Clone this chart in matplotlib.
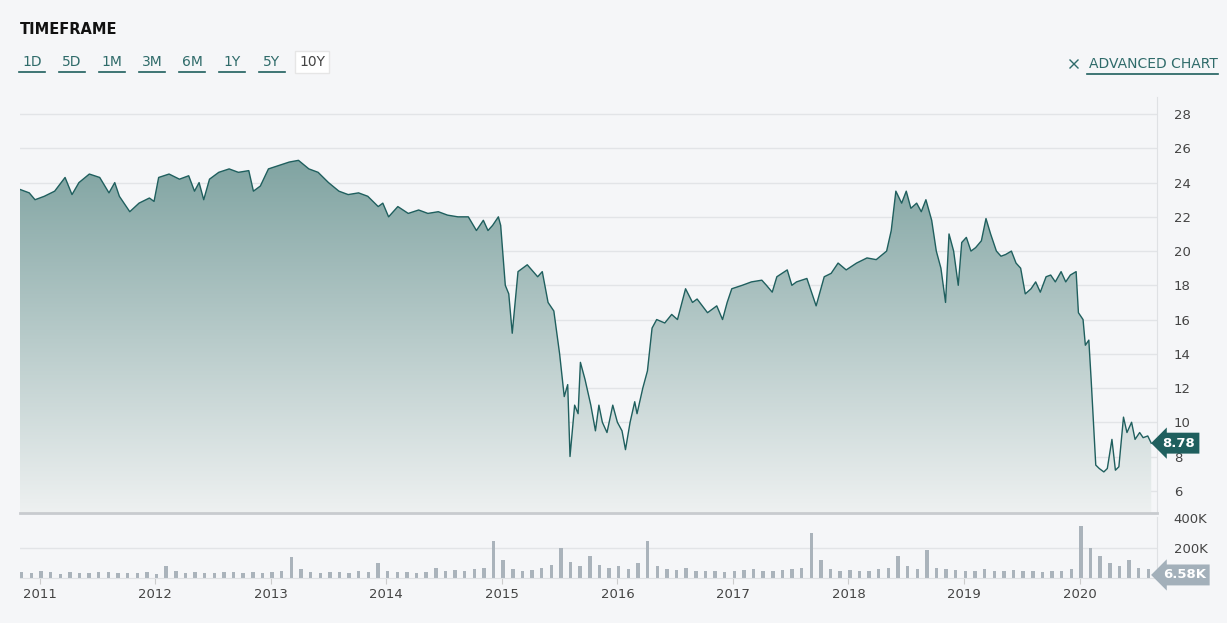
import matplotlib.pyplot as plt
import numpy as np
from matplotlib.patches import Polygon
from matplotlib.colors import LinearSegmentedColormap

# price series, decimal years
years = [2010.83, 2010.91, 2010.96, 2011.04, 2011.13, 2011.22, 2011.28, 2011.34, 2011.43, 2011.52,
         2011.60, 2011.65, 2011.69, 2011.78, 2011.86, 2011.95, 2011.99, 2012.03, 2012.12, 2012.21,
         2012.29, 2012.34, 2012.38, 2012.42, 2012.47, 2012.55, 2012.64, 2012.72, 2012.81, 2012.85,
         2012.91, 2012.98, 2013.07, 2013.16, 2013.24, 2013.33, 2013.41, 2013.50, 2013.59, 2013.67,
         2013.76, 2013.84, 2013.93, 2013.97, 2014.02, 2014.10, 2014.19, 2014.28, 2014.36, 2014.45,
         2014.53, 2014.62, 2014.71, 2014.78, 2014.84, 2014.88, 2014.92, 2014.97, 2014.99, 2015.03,
         2015.06, 2015.09, 2015.14, 2015.22, 2015.31, 2015.35, 2015.40, 2015.45, 2015.50, 2015.54,
         2015.57, 2015.59, 2015.63, 2015.66, 2015.68, 2015.72, 2015.77, 2015.81, 2015.84, 2015.87,
         2015.91, 2015.96, 2016.00, 2016.04, 2016.07, 2016.11, 2016.15, 2016.17, 2016.22, 2016.26,
         2016.30, 2016.34, 2016.41, 2016.47, 2016.52, 2016.59, 2016.65, 2016.69, 2016.78, 2016.86,
         2016.91, 2016.95, 2016.99, 2017.08, 2017.16, 2017.25, 2017.29, 2017.34, 2017.38, 2017.47,
         2017.51, 2017.55, 2017.64, 2017.68, 2017.72, 2017.79, 2017.85, 2017.91, 2017.98, 2018.07,
         2018.16, 2018.24, 2018.33, 2018.37, 2018.41, 2018.46, 2018.50, 2018.54, 2018.59, 2018.63,
         2018.67, 2018.72, 2018.76, 2018.80, 2018.84, 2018.87, 2018.91, 2018.95, 2018.98, 2019.02,
         2019.06, 2019.10, 2019.15, 2019.19, 2019.23, 2019.28, 2019.32, 2019.36, 2019.41, 2019.45,
         2019.49, 2019.53, 2019.58, 2019.62, 2019.66, 2019.71, 2019.75, 2019.79, 2019.84, 2019.88,
         2019.92, 2019.97, 2019.99, 2020.03, 2020.05, 2020.08, 2020.10, 2020.14, 2020.17, 2020.21,
         2020.24, 2020.28, 2020.31, 2020.34, 2020.38, 2020.41, 2020.45, 2020.48, 2020.52, 2020.55,
         2020.59, 2020.62]
prices = [23.6, 23.4, 23.0, 23.2, 23.5, 24.3, 23.3, 24.0, 24.5, 24.3,
          23.4, 24.0, 23.2, 22.3, 22.8, 23.1, 22.9, 24.3, 24.5, 24.2,
          24.4, 23.5, 24.0, 23.0, 24.2, 24.6, 24.8, 24.6, 24.7, 23.5,
          23.8, 24.8, 25.0, 25.2, 25.3, 24.8, 24.6, 24.0, 23.5, 23.3,
          23.4, 23.2, 22.6, 22.8, 22.0, 22.6, 22.2, 22.4, 22.2, 22.3,
          22.1, 22.0, 22.0, 21.2, 21.8, 21.2, 21.5, 22.0, 21.5, 18.0,
          17.5, 15.2, 18.8, 19.2, 18.5, 18.8, 17.0, 16.5, 14.0, 11.5,
          12.2, 8.0, 11.0, 10.5, 13.5, 12.5, 11.0, 9.5, 11.0, 10.0,
          9.4, 11.0, 10.0, 9.5, 8.4, 10.0, 11.2, 10.5, 12.0, 13.0,
          15.5, 16.0, 15.8, 16.3, 16.0, 17.8, 17.0, 17.2, 16.4, 16.8,
          16.0, 17.0, 17.8, 18.0, 18.2, 18.3, 18.0, 17.6, 18.5, 18.9,
          18.0, 18.2, 18.4, 17.6, 16.8, 18.5, 18.7, 19.3, 18.9, 19.3,
          19.6, 19.5, 20.0, 21.2, 23.5, 22.8, 23.5, 22.5, 22.8, 22.3,
          23.0, 21.8, 20.0, 19.0, 17.0, 21.0, 20.0, 18.0, 20.5, 20.8,
          20.0, 20.2, 20.6, 21.9, 21.0, 20.0, 19.7, 19.8, 20.0, 19.3,
          19.0, 17.5, 17.8, 18.2, 17.6, 18.5, 18.6, 18.2, 18.8, 18.2,
          18.6, 18.8, 16.4, 16.0, 14.5, 14.8, 12.5, 7.5, 7.3, 7.1,
          7.3, 9.0, 7.2, 7.4, 10.3, 9.4, 10.0, 9.0, 9.4, 9.1,
          9.2, 8.78]

# monthly volume (thousands), Nov 2010 .. Aug 2020
vol_start = 2010.83
volumes = [40, 35, 45, 38, 30, 42, 36, 34, 40, 38, 33, 36,
           35, 38, 30, 80, 45, 36, 40, 35, 32, 38, 42, 36,
           40, 35, 38, 45, 140, 60, 40, 35, 38, 42, 36, 50,
           40, 100, 45, 38, 42, 36, 40, 70, 45, 55, 48, 60,
           65, 250, 120, 60, 50, 55, 70, 90, 200, 110, 80, 150,
           90, 70, 80, 60, 100, 250, 80, 60, 55, 70, 50, 45,
           45, 40, 50, 55, 60, 50, 45, 55, 60, 70, 300, 120,
           60, 50, 55, 45, 50, 60, 70, 150, 80, 60, 190, 70,
           60, 55, 50, 45, 60, 50, 45, 55, 50, 45, 40, 50,
           45, 60, 350, 200, 150, 100, 80, 120, 70, 60]
vol_x = vol_start + np.arange(len(volumes)) / 12

year_ticks = list(range(2011, 2021))
price_ticks = [6, 8, 10, 12, 14, 16, 18, 20, 22, 24, 26, 28]
last_price = "8.78"
last_vol = "6.58K"

bg = "#f5f6f8"
line_c = "#1f5f5e"
txt_c = "#444444"

fig = plt.figure(figsize=(12.27, 6.23), dpi=100, facecolor=bg)
W, H = 1227, 623
ax = fig.add_axes([20 / W, 1 - 513 / H, 1137 / W, 416 / H], facecolor=bg)
axv = fig.add_axes([20 / W, 1 - 578 / H, 1137 / W, 61 / H], facecolor=bg)

x0, x1 = 2010.83, 2020.67
ax.set_xlim(x0, x1)
ax.set_ylim(4.7, 29)
for t in price_ticks:
    ax.axhline(t, color="#e2e4e7", lw=1, zorder=0)

# gradient fill under the line
grad = np.linspace(0, 1, 256).reshape(-1, 1)
cmap = LinearSegmentedColormap.from_list("g", ["#eef1f1", "#7fa3a1"])
im = ax.imshow(grad, extent=[x0, x1, 4.7, 25.5], origin="lower", aspect="auto",
               cmap=cmap, zorder=1)
poly = Polygon(np.column_stack([np.r_[years, years[-1], years[0]],
                                np.r_[prices, 4.7, 4.7]]), closed=True,
               transform=ax.transData, visible=False)
ax.add_patch(poly)
im.set_clip_path(poly)
ax.plot(years, prices, color=line_c, lw=1.0, zorder=3)

ax.yaxis.tick_right()
ax.set_yticks(price_ticks)
ax.set_yticklabels([str(t) for t in price_ticks])
ax.tick_params(axis="y", length=0, pad=12, labelsize=9.5, labelcolor=txt_c)
ax.set_xticks([])
for s in ["top", "left"]:
    ax.spines[s].set_visible(False)
ax.spines["right"].set_color("#dfe1e4")
ax.spines["bottom"].set_color("#c8cbcf")
ax.spines["bottom"].set_linewidth(2)
ax.text(1.005, (8.78 - 4.7) / (29 - 4.7), last_price, transform=ax.transAxes,
        ha="left", va="center", color="white", fontsize=9.5, fontweight="bold",
        bbox=dict(boxstyle="larrow,pad=0.3", fc=line_c, ec="none"))

axv.bar(vol_x, np.array(volumes) * 1000, width=0.03, color="#aab3bb", align="edge")
axv.set_xlim(x0, x1)
axv.set_ylim(0, 407000)
axv.axhline(200000, color="#e2e4e7", lw=1, zorder=0)
axv.yaxis.tick_right()
axv.set_yticks([200000, 400000])
axv.set_yticklabels(["200K", "400K"])
axv.tick_params(axis="y", length=0, pad=12, labelsize=9.5, labelcolor=txt_c)
axv.set_xticks(year_ticks)
axv.set_xticklabels([str(y) for y in year_ticks])
axv.tick_params(axis="x", length=4, color="#cccccc", labelsize=9.5, labelcolor=txt_c)
for s in ["top", "left"]:
    axv.spines[s].set_visible(False)
axv.spines["right"].set_color("#dfe1e4")
axv.spines["bottom"].set_color("#dfe1e4")
axv.text(1.005, 0.05, last_vol, transform=axv.transAxes, ha="left", va="center",
         color="white", fontsize=9.5, fontweight="bold",
         bbox=dict(boxstyle="larrow,pad=0.3", fc="#a3b0ba", ec="none"))

# header
fig.text(20 / W, 1 - 30 / H, "TIMEFRAME", fontsize=10.5, fontweight="bold",
         color="#111111", va="center")
buttons = ["1D", "5D", "1M", "3M", "6M", "1Y", "5Y", "10Y"]
for i, b in enumerate(buttons):
    cx = 32 + i * 40
    if b == "10Y":
        fig.text(cx / W, 1 - 62 / H, b, fontsize=10, color=txt_c, ha="center",
                 va="center", bbox=dict(fc="white", ec="#e6e6e6", pad=3))
    else:
        fig.text(cx / W, 1 - 62 / H, b, fontsize=10, color="#2f6b6a", ha="center",
                 va="center")
        fig.add_artist(plt.Line2D([(cx - 13) / W, (cx + 13) / W], [1 - 72 / H] * 2,
                                  color="#1f5f5e", lw=1.2))
fig.text(1218 / W, 1 - 64 / H, "ADVANCED CHART", fontsize=10, color="#2f6b6a",
         ha="right", va="center")
# expand icon drawn as two small diagonals
for dx, dy in [((1070, 1078), (60, 68)), ((1070, 1078), (68, 60))]:
    fig.add_artist(plt.Line2D([dx[0] / W, dx[1] / W], [1 - dy[0] / H, 1 - dy[1] / H],
                              color="#2f6b6a", lw=1.0))
fig.add_artist(plt.Line2D([1087 / W, 1218 / W], [1 - 74 / H] * 2, color="#1f5f5e", lw=1.2))

fig.savefig("out.png", dpi=100, facecolor=bg)
